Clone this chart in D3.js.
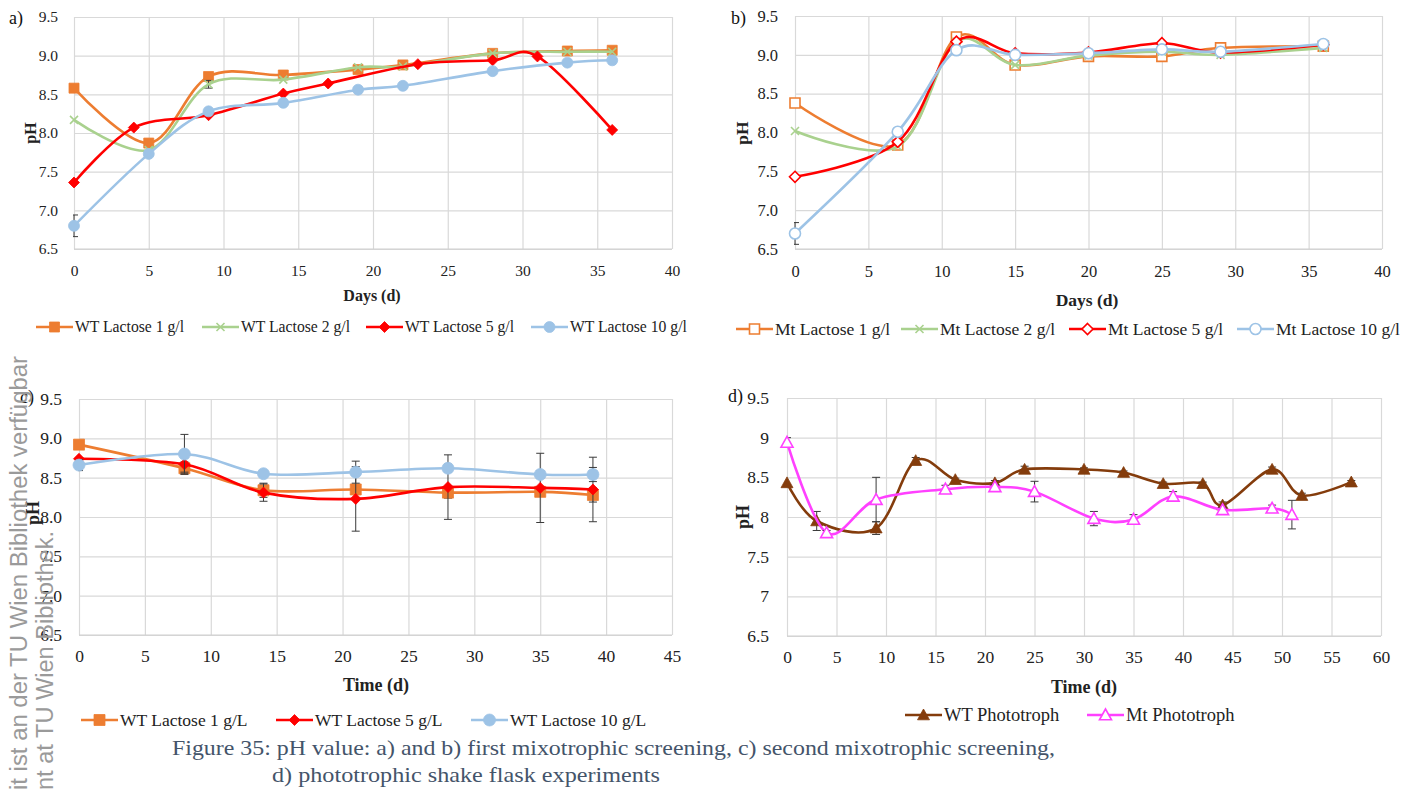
<!DOCTYPE html>
<html>
<head>
<meta charset="utf-8">
<script src="https://cdn.jsdelivr.net/npm/d3@7"></script>
<style>
  body { margin: 0; background: #fff; }
  svg text { font-family: "Liberation Serif", "Times New Roman", serif; }
</style>
</head>
<body>
<svg id="fig" width="1411" height="792"></svg>
<script>
// ---------- shared axes ----------
const pHTicks = [6.5, 7, 7.5, 8, 8.5, 9, 9.5];
const daysTicks40 = [0, 5, 10, 15, 20, 25, 30, 35, 40];
const daysTicks45 = [0, 5, 10, 15, 20, 25, 30, 35, 40, 45];
const daysTicks60 = [0, 5, 10, 15, 20, 25, 30, 35, 40, 45, 50, 55, 60];

// ---------- a) first mixotrophic screening, wild type ----------
const aDaysWT1 = [0, 5, 9, 14, 19, 22, 28, 33, 36];
const aPhWT1   = [8.58, 7.87, 8.73, 8.75, 8.82, 8.88, 9.03, 9.06, 9.07];
const aDaysWT2 = [0, 5, 9, 14, 19, 22, 28, 33, 36];
const aPhWT2   = [8.17, 7.78, 8.63, 8.69, 8.85, 8.86, 9.03, 9.05, 9.05];
const aErrWT2  = [0, 0, 0.05, 0, 0, 0, 0, 0, 0];
const aDaysWT5 = [0, 4, 9, 14, 17, 23, 28, 31, 36];
const aPhWT5   = [7.36, 8.07, 8.23, 8.51, 8.64, 8.89, 8.94, 8.99, 8.04];
const aDaysWT10 = [0, 5, 9, 14, 19, 22, 28, 33, 36];
const aPhWT10   = [6.80, 7.73, 8.28, 8.39, 8.56, 8.61, 8.80, 8.91, 8.94];
const aErrWT10  = [0.14, 0, 0, 0, 0.04, 0, 0, 0, 0];

// ---------- b) first mixotrophic screening, mutant ----------
const bDays   = [0, 7, 11, 15, 20, 25, 29, 36];
const bPhMt1  = [8.38, 7.84, 9.23, 8.87, 8.98, 8.98, 9.09, 9.11];
const bPhMt2  = [8.02, 7.82, 9.17, 8.87, 8.99, 9.04, 9.00, 9.09];
const bPhMt5  = [7.43, 7.88, 9.17, 9.02, 9.03, 9.15, 9.03, 9.13];
const bPhMt10 = [6.70, 8.01, 9.06, 9.00, 9.02, 9.07, 9.04, 9.14];
const bErrMt10 = [0.14, 0, 0, 0, 0, 0, 0, 0];

// ---------- c) second mixotrophic screening ----------
const cDays    = [0, 8, 14, 21, 28, 35, 39];
const cPhWT1   = [8.92, 8.62, 8.34, 8.35, 8.31, 8.32, 8.28];
const cErrWT1  = [0, 0.08, 0.09, 0.05, 0.07, 0.05, 0.09];
const cPhWT5   = [8.74, 8.67, 8.31, 8.23, 8.38, 8.37, 8.35];
const cErrWT5  = [0, 0.1, 0.11, 0.41, 0.41, 0.44, 0.41];
const cPhWT10  = [8.66, 8.80, 8.55, 8.57, 8.62, 8.54, 8.54];
const cErrWT10 = [0.07, 0.25, 0.02, 0.14, 0.05, 0.05, 0.09];

// ---------- d) phototrophic shake flasks ----------
const dDaysWT = [0, 3, 9, 13, 17, 21, 24, 30, 34, 38, 42, 44, 49, 52, 57];
const dPhWT   = [8.43, 7.95, 7.86, 8.71, 8.47, 8.43, 8.60, 8.60, 8.56, 8.42, 8.42, 8.15, 8.60, 8.27, 8.44];
const dErrWT  = [0, 0.12, 0.08, 0.04, 0.02, 0.03, 0.04, 0.02, 0.02, 0.02, 0.02, 0.04, 0.03, 0.03, 0.02];
const dDaysMt = [0, 4, 9, 16, 21, 25, 31, 35, 39, 44, 49, 51];
const dPhMt   = [8.94, 7.80, 8.22, 8.35, 8.38, 8.32, 7.98, 7.97, 8.26, 8.09, 8.11, 8.03];
const dErrMt  = [0.06, 0.03, 0.28, 0.05, 0.03, 0.13, 0.09, 0.06, 0.06, 0.03, 0.04, 0.18];

// ---------- colours ----------
const C_ORANGE = "#ED7D31", C_GREEN = "#A9D18E", C_RED = "#FF0000",
      C_BLUE = "#9DC3E6", C_BROWN = "#843C0C", C_MAGENTA = "#FF40FF";

const svg = d3.select("#fig");

function zip(xs, ys, es) {
  return xs.map((v, i) => ({ x: v, y: ys[i], e: es ? es[i] : 0 }));
}

// marker path centred on 0,0
function markerPath(kind, s) {
  if (kind === "square") return d3.symbol(d3.symbolSquare, s * s)();
  if (kind === "circle") return d3.symbol(d3.symbolCircle, Math.PI * s * s / 4)();
  if (kind === "diamond") { const h = s / 2; return `M0,${-h}L${h},0L0,${h}L${-h},0Z`; }
  if (kind === "triangle") { const h = s / 2; return `M0,${-h}L${h},${h * 0.8}L${-h},${h * 0.8}Z`; }
  if (kind === "x") { const h = s / 2; return `M${-h},${-h}L${h},${h}M${-h},${h}L${h},${-h}`; }
}

function drawMarker(g, kind, color, open, size, cx, cy) {
  const p = g.append("path")
    .attr("d", markerPath(kind, size))
    .attr("transform", `translate(${cx},${cy})`);
  if (kind === "x") {
    p.attr("fill", "none").attr("stroke", color).attr("stroke-width", 1.6);
  } else if (open) {
    p.attr("fill", "#fff").attr("stroke", color).attr("stroke-width", 1.6);
  } else {
    p.attr("fill", color).attr("stroke", color).attr("stroke-width", 0.8);
  }
}

let clipId = 0;
function panel(opt) {
  const g = svg.append("g");
  const x = d3.scaleLinear().domain(opt.xDomain).range([opt.left, opt.right]);
  const y = d3.scaleLinear().domain([6.5, 9.5]).range([opt.bottom, opt.top]);

  // horizontal grid + pH tick labels
  const ya = g.append("g").attr("transform", `translate(${opt.left},0)`)
    .call(d3.axisLeft(y).tickValues(pHTicks).tickFormat(opt.yFormat)
      .tickSize(-(opt.right - opt.left)).tickPadding(opt.yPad));
  // vertical grid + day tick labels
  const xa = g.append("g").attr("transform", `translate(0,${opt.bottom})`)
    .call(d3.axisBottom(x).tickValues(opt.xTicks).tickFormat(d3.format("d"))
      .tickSize(-(opt.bottom - opt.top)).tickPadding(opt.xPad));
  [ya, xa].forEach(a => {
    a.select(".domain").remove();
    a.selectAll(".tick line").attr("stroke", "#d9d9d9").attr("stroke-width", 1.2);
    a.selectAll(".tick text").attr("fill", "#222").attr("font-size", opt.tickSize);
  });
  g.append("line").attr("x1", opt.left).attr("x2", opt.right)
    .attr("y1", opt.bottom).attr("y2", opt.bottom)
    .attr("stroke", "#cfcfcf").attr("stroke-width", 1.2);

  // axis titles
  g.append("text").attr("x", opt.xTitleX).attr("y", opt.xTitleY)
    .attr("text-anchor", "middle").attr("font-weight", "bold").attr("font-size", opt.titleSize)
    .attr("fill", "#222").text(opt.xTitle);
  g.append("text")
    .attr("transform", `translate(${opt.yTitleX},${opt.yTitleY}) rotate(-90)`)
    .attr("text-anchor", "middle").attr("font-weight", "bold").attr("font-size", opt.titleSize)
    .attr("fill", "#222").text("pH");

  // panel letter
  g.append("text").attr("x", opt.labelX).attr("y", opt.labelY)
    .attr("font-size", 18).attr("fill", "#111").text(opt.label);

  // clip for error bars (plot area)
  const cid = "clip" + (clipId++);
  svg.append("clipPath").attr("id", cid).append("rect")
    .attr("x", opt.left - 1).attr("y", opt.top - 2)
    .attr("width", opt.right - opt.left + 2).attr("height", opt.bottom - opt.top + 4);

  const line = d3.line().x(d => x(d.x)).y(d => y(d.y)).curve(d3.curveCardinal.tension(0));

  opt.series.forEach(s => {
    const sg = g.append("g");
    sg.append("path").datum(s.data).attr("d", line)
      .attr("fill", "none").attr("stroke", s.color).attr("stroke-width", 2.6)
      .attr("stroke-linejoin", "round");
    const eg = sg.append("g").attr("clip-path", `url(#${cid})`)
      .attr("stroke", "#3a3a3a").attr("stroke-width", 1);
    s.data.filter(d => d.e > 0).forEach(d => {
      const cx = x(d.x), y1 = y(d.y + d.e), y2 = y(d.y - d.e);
      eg.append("line").attr("x1", cx).attr("x2", cx).attr("y1", y1).attr("y2", y2);
      eg.append("line").attr("x1", cx - 4).attr("x2", cx + 4).attr("y1", y1).attr("y2", y1);
      eg.append("line").attr("x1", cx - 4).attr("x2", cx + 4).attr("y1", y2).attr("y2", y2);
    });
    s.data.forEach(d => drawMarker(sg, s.marker, s.color, s.open, s.size, x(d.x), y(d.y)));
  });

  // legend
  opt.series.forEach((s, i) => {
    const lx = opt.legendX[i], ly = opt.legendY;
    g.append("line").attr("x1", lx).attr("x2", lx + 37).attr("y1", ly).attr("y2", ly)
      .attr("stroke", s.color).attr("stroke-width", 2.6);
    drawMarker(g, s.marker, s.color, s.open, s.size, lx + 18.5, ly);
    g.append("text").attr("x", lx + 39).attr("y", ly + opt.legendSize * 0.33)
      .attr("font-size", opt.legendSize).attr("fill", "#222").text(s.name);
  });
}

const fmt1 = d3.format(".1f");
const fmtD = d => (d % 1 === 0 ? String(d) : d.toFixed(1));

panel({
  left: 74, right: 672, top: 17, bottom: 249, xDomain: [0, 40], xTicks: daysTicks40,
  yFormat: fmt1, yPad: 16, xPad: 16, tickSize: 15.5, titleSize: 16, legendSize: 15.7,
  xTitle: "Days (d)", xTitleX: 372, xTitleY: 301, yTitleX: 36, yTitleY: 133,
  label: "a)", labelX: 9, labelY: 24,
  legendY: 327, legendX: [36, 202, 366, 531],
  series: [
    { name: "WT Lactose 1 g/l", color: C_ORANGE, marker: "square", size: 10, data: zip(aDaysWT1, aPhWT1) },
    { name: "WT Lactose 2 g/l", color: C_GREEN, marker: "x", size: 8, data: zip(aDaysWT2, aPhWT2, aErrWT2) },
    { name: "WT Lactose 5 g/l", color: C_RED, marker: "diamond", size: 11, data: zip(aDaysWT5, aPhWT5) },
    { name: "WT Lactose 10 g/l", color: C_BLUE, marker: "circle", size: 11, data: zip(aDaysWT10, aPhWT10, aErrWT10) }
  ]
});

panel({
  left: 795, right: 1382, top: 16, bottom: 249, xDomain: [0, 40], xTicks: daysTicks40,
  yFormat: fmt1, yPad: 17, xPad: 16, tickSize: 16.5, titleSize: 17.5, legendSize: 17.5,
  xTitle: "Days (d)", xTitleX: 1087, xTitleY: 306, yTitleX: 748, yTitleY: 133,
  label: "b)", labelX: 731, labelY: 24,
  legendY: 329, legendX: [736, 901, 1069, 1237],
  series: [
    { name: "Mt Lactose 1 g/l", color: C_ORANGE, marker: "square", size: 10, open: true, data: zip(bDays, bPhMt1) },
    { name: "Mt Lactose 2 g/l", color: C_GREEN, marker: "x", size: 8, data: zip(bDays, bPhMt2) },
    { name: "Mt Lactose 5 g/l", color: C_RED, marker: "diamond", size: 11, open: true, data: zip(bDays, bPhMt5) },
    { name: "Mt Lactose 10 g/l", color: C_BLUE, marker: "circle", size: 11, open: true, data: zip(bDays, bPhMt10, bErrMt10) }
  ]
});

panel({
  left: 79, right: 672, top: 399, bottom: 635, xDomain: [0, 45], xTicks: daysTicks45,
  yFormat: fmt1, yPad: 17, xPad: 15, tickSize: 17.5, titleSize: 18, legendSize: 17.5,
  xTitle: "Time (d)", xTitleX: 376, xTitleY: 691, yTitleX: 39, yTitleY: 513,
  label: "c)", labelX: 20, labelY: 403,
  legendY: 720, legendX: [81, 276, 471],
  series: [
    { name: "WT Lactose 1 g/L", color: C_ORANGE, marker: "square", size: 11, data: zip(cDays, cPhWT1, cErrWT1) },
    { name: "WT Lactose 5 g/L", color: C_RED, marker: "diamond", size: 11, data: zip(cDays, cPhWT5, cErrWT5) },
    { name: "WT Lactose 10 g/L", color: C_BLUE, marker: "circle", size: 12, data: zip(cDays, cPhWT10, cErrWT10) }
  ]
});

panel({
  left: 787, right: 1381, top: 398, bottom: 636, xDomain: [0, 60], xTicks: daysTicks60,
  yFormat: fmtD, yPad: 18, xPad: 15, tickSize: 17.5, titleSize: 18, legendSize: 18.5,
  xTitle: "Time (d)", xTitleX: 1084, xTitleY: 693, yTitleX: 749, yTitleY: 517,
  label: "d)", labelX: 728, labelY: 402,
  legendY: 715, legendX: [905, 1087],
  series: [
    { name: "WT Phototroph", color: C_BROWN, marker: "triangle", size: 12, data: zip(dDaysWT, dPhWT, dErrWT) },
    { name: "Mt Phototroph", color: C_MAGENTA, marker: "triangle", size: 12, open: true, data: zip(dDaysMt, dPhMt, dErrMt) }
  ]
});

// caption
const cap = svg.append("g").attr("fill", "#44546A").attr("font-size", 22);
cap.append("text").attr("x", 172).attr("y", 755)
  .attr("textLength", 883).attr("lengthAdjust", "spacingAndGlyphs")
  .text("Figure 35: pH value: a) and b) first mixotrophic screening, c) second mixotrophic screening,");
cap.append("text").attr("x", 272).attr("y", 782)
  .attr("textLength", 388).attr("lengthAdjust", "spacingAndGlyphs")
  .text("d) phototrophic shake flask experiments");

// library notice running up the left margin
const wm = svg.append("g").attr("fill", "#9a9a9a").attr("font-size", 23);
wm.append("text").attr("transform", "translate(27,790) rotate(-90)")
  .attr("text-anchor", "start").style("font-family", "Liberation Sans, Arial, sans-serif")
  .attr("textLength", 434).attr("lengthAdjust", "spacingAndGlyphs")
  .text("it ist an der TU Wien Bibliothek verfügbar");
wm.append("text").attr("transform", "translate(53,790) rotate(-90)")
  .attr("text-anchor", "start").style("font-family", "Liberation Sans, Arial, sans-serif")
  .attr("textLength", 259).attr("lengthAdjust", "spacingAndGlyphs")
  .text("nt at TU Wien Bibliothek.");
</script>
</body>
</html>
